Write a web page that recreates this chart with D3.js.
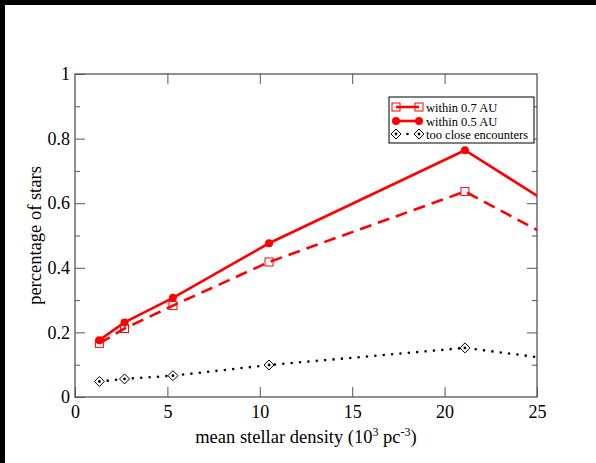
<!DOCTYPE html>
<html>
<head>
<meta charset="utf-8">
<script src="https://cdn.jsdelivr.net/npm/d3@7"></script>
<style>
  body { margin: 0; background: #fff; }
  svg { display: block; font-family: 'Liberation Serif', 'Times New Roman', serif; }
</style>
</head>
<body>
<div id="root"></div>
<script>
// densities (10^3 pc^-3); last point lies off the right edge and gets clipped
const density = [1.32, 2.68, 5.3, 10.5, 21.1, 42]
const within07 = [0.166, 0.212, 0.283, 0.418, 0.636, 0.0]
const within05 = [0.176, 0.231, 0.307, 0.476, 0.764, 0.01]
const tooClose = [0.048, 0.056, 0.066, 0.099, 0.152, 0.0]
const xTicks = [0, 5, 10, 15, 20, 25]
const yTicks = [0, 0.2, 0.4, 0.6, 0.8, 1]
const yMinor = [0.1, 0.3, 0.5, 0.7, 0.9]

const width = 596
const height = 463
const margin = { top: 74, right: 59, bottom: 66, left: 75 }
const RED = '#ff0000'
const SERIF = "'Liberation Serif', 'Times New Roman', serif"

const svg = d3.select('#root').append('svg')
  .attr('width', width)
  .attr('height', height)

// black strips along top and left edges, as in the screenshot
svg.append('rect').attr('x', 0).attr('y', 0).attr('width', width).attr('height', 5).attr('fill', '#000')
svg.append('rect').attr('x', 0).attr('y', 0).attr('width', 5).attr('height', height).attr('fill', '#000')

const x = d3.scaleLinear().domain([0, 25]).range([margin.left, width - margin.right])
const y = d3.scaleLinear().domain([0, 1]).range([height - margin.bottom, margin.top])

svg.append('clipPath').attr('id', 'plotClip')
  .append('rect')
  .attr('x', x(0)).attr('y', y(1))
  .attr('width', x(25) - x(0)).attr('height', y(0) - y(1))

// axes: ticks point inward, mirrored on top and right
const axisColor = '#555'
function styleAxis (g) {
  g.attr('font-family', null)
  g.select('.domain').remove()
  g.selectAll('.tick line').attr('stroke', axisColor).attr('stroke-width', 1)
  g.selectAll('.tick text').attr('fill', '#000')
    .style('font-size', '18px')
    .style('font-family', SERIF)
}
svg.append('g')
  .attr('transform', `translate(0,${y(0)})`)
  .call(d3.axisBottom(x).tickValues(xTicks).tickFormat(d3.format('d')).tickSizeInner(-10).tickPadding(20))
  .call(styleAxis)
  .call(g => g.selectAll('.tick text').attr('dy', '0.05em'))
svg.append('g')
  .attr('transform', `translate(0,${y(1)})`)
  .call(d3.axisTop(x).tickValues(xTicks.slice(1, -1)).tickFormat('').tickSizeInner(-10))
  .call(styleAxis)
svg.append('g')
  .attr('transform', `translate(${x(0)},0)`)
  .call(d3.axisLeft(y).tickValues(yTicks).tickFormat(d => d === 0 || d === 1 ? d3.format('d')(d) : d3.format('.1f')(d)).tickSizeInner(-10).tickPadding(5))
  .call(styleAxis)
svg.append('g')
  .attr('transform', `translate(${x(0)},0)`)
  .call(d3.axisLeft(y).tickValues(yMinor).tickFormat('').tickSizeInner(-5))
  .call(styleAxis)
svg.append('g')
  .attr('transform', `translate(${x(25)},0)`)
  .call(d3.axisRight(y).tickValues(yTicks.slice(1, -1)).tickFormat('').tickSizeInner(-10))
  .call(styleAxis)
svg.append('g')
  .attr('transform', `translate(${x(25)},0)`)
  .call(d3.axisRight(y).tickValues(yMinor).tickFormat('').tickSizeInner(-5))
  .call(styleAxis)

// frame
svg.append('rect')
  .attr('x', x(0)).attr('y', y(1))
  .attr('width', x(25) - x(0)).attr('height', y(0) - y(1))
  .attr('fill', 'none').attr('stroke', axisColor).attr('stroke-width', 1.3)

// axis titles
svg.append('text')
  .attr('x', (x(0) + x(25)) / 2).attr('y', 443)
  .attr('text-anchor', 'middle').style('font-size', '18.5px')
  .html('mean stellar density (10<tspan dy="-7" font-size="12">3</tspan><tspan dy="7"> pc</tspan><tspan dy="-7" font-size="12">-3</tspan><tspan dy="7">)</tspan>')
svg.append('text')
  .attr('transform', `translate(41,${(y(0) + y(1)) / 2}) rotate(-90)`)
  .attr('text-anchor', 'middle').style('font-size', '18.5px')
  .text('percentage of stars')

const pts = vals => density.map((d, i) => [d, vals[i]])
const line = d3.line().x(d => x(d[0])).y(d => y(d[1]))
const plot = svg.append('g').attr('clip-path', 'url(#plotClip)')

plot.append('path').datum(pts(tooClose))
  .attr('d', line).attr('fill', 'none').attr('stroke', '#000')
  .attr('stroke-width', 2.6).attr('stroke-linecap', 'round').attr('stroke-dasharray', '0,8.4')
plot.append('path').datum(pts(within07))
  .attr('d', line).attr('fill', 'none').attr('stroke', RED)
  .attr('stroke-width', 2.6).attr('stroke-dasharray', '12,7')
plot.append('path').datum(pts(within05))
  .attr('d', line).attr('fill', 'none').attr('stroke', RED)
  .attr('stroke-width', 2.6)

// markers
const diamond = (g, cx, cy) => {
  g.append('path')
    .attr('d', `M${cx},${cy - 5}L${cx + 5},${cy}L${cx},${cy + 5}L${cx - 5},${cy}Z`)
    .attr('fill', '#fff').attr('stroke', '#000').attr('stroke-width', 1)
  g.append('circle').attr('cx', cx).attr('cy', cy).attr('r', 1.4).attr('fill', '#000')
}
const square = (g, cx, cy) => {
  g.append('rect').attr('x', cx - 4).attr('y', cy - 4).attr('width', 8).attr('height', 8)
    .attr('fill', 'none').attr('stroke', RED).attr('stroke-width', 1)
}
const dot = (g, cx, cy) => {
  g.append('circle').attr('cx', cx).attr('cy', cy).attr('r', 4).attr('fill', RED)
}
pts(tooClose).forEach(d => diamond(plot, x(d[0]), y(d[1])))
pts(within07).forEach(d => square(plot, x(d[0]), y(d[1])))
pts(within05).forEach(d => dot(plot, x(d[0]), y(d[1])))

// legend
const legend = svg.append('g')
legend.append('rect')
  .attr('x', 389).attr('y', 97).attr('width', 145).attr('height', 46)
  .attr('fill', '#fff').attr('stroke', '#000').attr('stroke-width', 1)
const legendItems = [
  { label: 'within 0.7 AU', yPos: 107 },
  { label: 'within 0.5 AU', yPos: 121 },
  { label: 'too close encounters', yPos: 134 }
]
const lx0 = 396
const lx1 = 419
legend.append('line').attr('x1', lx0).attr('x2', lx1).attr('y1', 107).attr('y2', 107)
  .attr('stroke', RED).attr('stroke-width', 2.6)
square(legend, lx0, 107); square(legend, lx1, 107)
legend.append('line').attr('x1', lx0).attr('x2', lx1).attr('y1', 121).attr('y2', 121)
  .attr('stroke', RED).attr('stroke-width', 2.6)
dot(legend, lx0, 121); dot(legend, lx1, 121)
legend.append('circle').attr('cx', (lx0 + lx1) / 2).attr('cy', 134).attr('r', 1.3).attr('fill', '#000')
diamond(legend, lx0, 134); diamond(legend, lx1, 134)
legend.selectAll('text.lab').data(legendItems).join('text')
  .attr('class', 'lab')
  .attr('x', 426).attr('y', d => d.yPos + 4.5)
  .style('font-size', '12.5px')
  .text(d => d.label)
</script>
</body>
</html>
